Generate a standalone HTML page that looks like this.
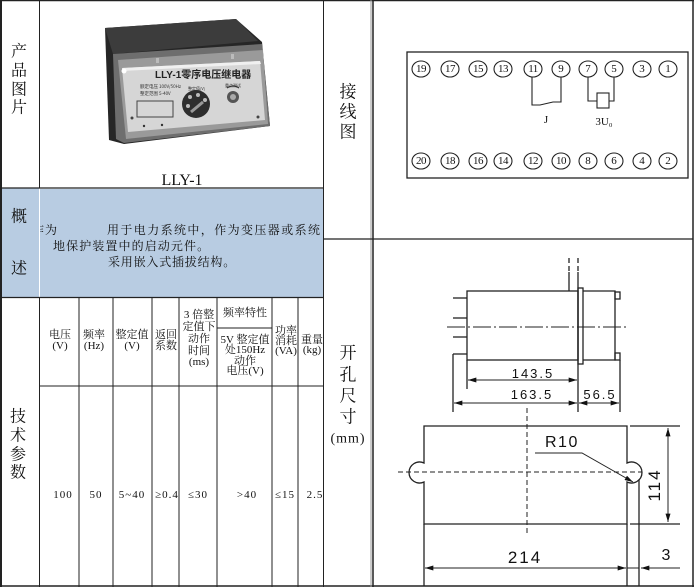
<!DOCTYPE html>
<html><head><meta charset="utf-8">
<style>
html,body{margin:0;padding:0;background:#fff;}
svg{display:block;}
.cj{font-family:"Liberation Serif","Noto Serif CJK SC",serif;fill:#111;}
.sn{font-family:"Liberation Sans",sans-serif;fill:#111;}
</style></head><body>
<svg width="694" height="587" viewBox="0 0 694 587" xmlns="http://www.w3.org/2000/svg">
<defs>
<clipPath id="blueclip"><rect x="40" y="189" width="283" height="108"/></clipPath>
<clipPath id="tblclip"><rect x="40" y="298" width="283" height="289"/></clipPath>
<marker id="ar" viewBox="0 0 10 6" refX="10" refY="3" markerWidth="9" markerHeight="5" orient="auto-start-reverse" markerUnits="userSpaceOnUse">
<path d="M0,0 L10,3 L0,6 z" fill="#111"/></marker>
</defs>
<rect width="694" height="587" fill="#fff"/>

<!-- blue section -->
<rect x="2" y="188" width="37" height="109" fill="#b8cce2"/>
<rect x="40" y="189" width="283" height="108" fill="#b8cce2"/>

<!-- frame lines -->
<g stroke="#222" fill="none">
<line x1="0" y1="0.5" x2="694" y2="0.5" stroke-width="1.5"/>
<line x1="1" y1="0" x2="1" y2="587" stroke-width="2"/>
<line x1="0" y1="586" x2="694" y2="586" stroke-width="1.5"/>
<line x1="693" y1="0" x2="693" y2="587" stroke-width="1.5"/>
<line x1="39.5" y1="0" x2="39.5" y2="188"/>
<line x1="39.5" y1="297" x2="39.5" y2="587"/>
<line x1="323.5" y1="0" x2="323.5" y2="587"/>
<line x1="371" y1="0" x2="371" y2="587" stroke="#999"/>
<line x1="373" y1="0" x2="373" y2="587" stroke-width="1.5"/>
<line x1="0" y1="188" x2="323" y2="188" stroke-width="1.2"/>
<line x1="0" y1="297.5" x2="323" y2="297.5" stroke-width="1.2"/>
<line x1="323" y1="239" x2="693" y2="239" stroke-width="1.2"/>
<!-- table -->
<line x1="79" y1="298" x2="79" y2="587"/>
<line x1="113" y1="298" x2="113" y2="587"/>
<line x1="152" y1="298" x2="152" y2="587"/>
<line x1="179" y1="298" x2="179" y2="587"/>
<line x1="217" y1="298" x2="217" y2="587"/>
<line x1="272" y1="298" x2="272" y2="587"/>
<line x1="298" y1="298" x2="298" y2="587"/>
<line x1="40" y1="386" x2="323" y2="386"/>
<line x1="217" y1="328" x2="272" y2="328"/>
</g>

<!-- left labels -->
<g class="cj" font-size="16" text-anchor="middle" dominant-baseline="central">
<text x="19" y="52">产</text><text x="19" y="71">品</text><text x="19" y="90">图</text><text x="19" y="108">片</text>
<text x="19" y="217">概</text><text x="19" y="269">述</text>
<text x="18" y="417">技</text><text x="18" y="436">术</text><text x="18" y="455">参</text><text x="18" y="473">数</text>
</g>
<g class="cj" font-size="17" text-anchor="middle" dominant-baseline="central">
<text x="348" y="92">接</text><text x="348" y="112">线</text><text x="348" y="132">图</text>
<text x="348" y="353">开</text><text x="348" y="375">孔</text><text x="348" y="396">尺</text><text x="348" y="417">寸</text>
</g>
<text class="cj" x="348" y="439" font-size="14" text-anchor="middle" dominant-baseline="central" letter-spacing="1">(mm)</text>

<!-- product photo -->
<g>
<polygon points="105,28 236,19 262,42 270,126 124,144 109,140" fill="#262626"/>
<polygon points="105,28 236,19 258,41 113,54" fill="#3c3c3c"/>
<polygon points="113,54 262,44 270,126 124,143 116,139" fill="#6e6e6e"/>
<polygon points="118,60 263,50 268,124 126,139" fill="#9a9a9a"/>
<polygon points="122,68 260,61 265,120 128,132" fill="#d6d6d6"/>
<polygon points="122,68 260,61 261,64 123,71" fill="#f0f0f0"/>
<circle cx="124" cy="71" r="2.5" fill="#fff"/>
<text x="155" y="78" font-family="Liberation Sans,Noto Sans CJK SC,sans-serif" font-size="10" font-weight="bold" fill="#222">LLY-1零序电压继电器</text>
<text x="140" y="88" font-family="Noto Sans CJK SC,sans-serif" font-size="4.5" fill="#333">额定电压 100V/50Hz</text>
<text x="140" y="95" font-family="Noto Sans CJK SC,sans-serif" font-size="4.5" fill="#333">整定范围 5-40V</text>
<text x="188" y="90" font-family="Noto Sans CJK SC,sans-serif" font-size="4" fill="#333">整定值(V)</text>
<text x="225" y="87" font-family="Noto Sans CJK SC,sans-serif" font-size="4" fill="#333">重点测试</text>
<rect x="137" y="101" width="36" height="16" fill="none" stroke="#444" stroke-width="1"/>
<circle cx="196" cy="104" r="14" fill="#2e2e2e"/>
<circle cx="190" cy="97" r="2" fill="#bbb"/><circle cx="198" cy="95" r="2" fill="#bbb"/><circle cx="205" cy="100" r="2" fill="#bbb"/><circle cx="188" cy="106" r="2" fill="#bbb"/>
<line x1="191" y1="112" x2="203" y2="102" stroke="#999" stroke-width="3"/>
<circle cx="233" cy="97" r="6" fill="#555"/><circle cx="233" cy="97" r="3" fill="#aaa"/>
<path d="M227,88 Q233,84 239,88" stroke="#333" fill="none" stroke-width="1.2"/>
<circle cx="144" cy="126" r="1.2" fill="#333"/><circle cx="162" cy="125" r="1.2" fill="#333"/>
<circle cx="132" cy="118" r="1.5" fill="#444"/><circle cx="258" cy="117" r="1.5" fill="#444"/>
<rect x="156" y="58" width="3" height="5" fill="#bbb"/><rect x="231" y="54" width="3" height="5" fill="#bbb"/>
</g>
<text x="182" y="185" font-family="Liberation Serif,serif" font-size="16" text-anchor="middle" fill="#111">LLY-1</text>

<!-- blue text -->
<g class="cj" font-size="12" clip-path="url(#blueclip)">
<text x="32" y="234" letter-spacing="1">作为</text>
<text x="107" y="234" letter-spacing="1.4">用于电力系统中，作为变压器或系统</text>
<text x="53" y="250" letter-spacing="1.1">地保护装置中的启动元件。</text>
<text x="108" y="266" letter-spacing="0.8">采用嵌入式插拔结构。</text>
</g>

<!-- table texts -->
<g class="cj" font-size="11" text-anchor="middle" dominant-baseline="central" clip-path="url(#tblclip)">
<text x="60" y="335">电压</text><text x="60" y="346">(V)</text>
<text x="94" y="335">频率</text><text x="94" y="346">(Hz)</text>
<text x="132" y="335">整定值</text><text x="132" y="346">(V)</text>
<text x="166" y="335">返回</text><text x="166" y="346">系数</text>
<text x="199" y="315">3 倍整</text><text x="199" y="327">定值下</text><text x="199" y="339">动作</text><text x="199" y="351">时间</text><text x="199" y="362">(ms)</text>
<text x="245" y="313">频率特性</text>
<text x="245" y="340">5V 整定值</text><text x="245" y="350">处150Hz</text><text x="245" y="361">动作</text><text x="245" y="371">电压(V)</text>
<text x="286" y="331">功率</text><text x="286" y="341">消耗</text><text x="286" y="351">(VA)</text>
<text x="312" y="340">重量</text><text x="312" y="350">(kg)</text>
<g letter-spacing="1">
<text x="63" y="495">100</text><text x="96" y="495">50</text><text x="132" y="495">5~40</text>
<text x="167" y="495">≥0.4</text><text x="198" y="495">≤30</text><text x="247" y="495">&gt;40</text>
<text x="285" y="495">≤15</text><text x="315" y="495">2.5</text>
</g>
</g>

<!-- wiring diagram -->
<rect x="407" y="52" width="281" height="126" fill="none" stroke="#222" stroke-width="1.3"/>
<g fill="none" stroke="#222" stroke-width="1.1">
<ellipse cx="421" cy="69" rx="9" ry="8"/><ellipse cx="450" cy="69" rx="9" ry="8"/><ellipse cx="478" cy="69" rx="9" ry="8"/><ellipse cx="503" cy="69" rx="9" ry="8"/><ellipse cx="533" cy="69" rx="9" ry="8"/><ellipse cx="561" cy="69" rx="9" ry="8"/><ellipse cx="588" cy="69" rx="9" ry="8"/><ellipse cx="614" cy="69" rx="9" ry="8"/><ellipse cx="642" cy="69" rx="9" ry="8"/><ellipse cx="668" cy="69" rx="9" ry="8"/>
<ellipse cx="421" cy="161" rx="9" ry="8"/><ellipse cx="450" cy="161" rx="9" ry="8"/><ellipse cx="478" cy="161" rx="9" ry="8"/><ellipse cx="503" cy="161" rx="9" ry="8"/><ellipse cx="533" cy="161" rx="9" ry="8"/><ellipse cx="561" cy="161" rx="9" ry="8"/><ellipse cx="588" cy="161" rx="9" ry="8"/><ellipse cx="614" cy="161" rx="9" ry="8"/><ellipse cx="642" cy="161" rx="9" ry="8"/><ellipse cx="668" cy="161" rx="9" ry="8"/>
<polyline points="532,77 532,105 540,105 553,102 561,102 561,77"/>
<polyline points="588,77 588,101 597,101"/>
<rect x="597" y="93" width="12" height="15"/>
<polyline points="609,101 614,101 614,77"/>
</g>
<g class="cj" font-size="11" text-anchor="middle" dominant-baseline="central">
<text x="421" y="69" letter-spacing="-0.5">19</text><text x="450" y="69" letter-spacing="-0.5">17</text><text x="478" y="69" letter-spacing="-0.5">15</text><text x="503" y="69" letter-spacing="-0.5">13</text><text x="533" y="69" letter-spacing="-0.5">11</text><text x="561" y="69">9</text><text x="588" y="69">7</text><text x="614" y="69">5</text><text x="642" y="69">3</text><text x="668" y="69">1</text>
<text x="421" y="161" letter-spacing="-0.5">20</text><text x="450" y="161" letter-spacing="-0.5">18</text><text x="478" y="161" letter-spacing="-0.5">16</text><text x="503" y="161" letter-spacing="-0.5">14</text><text x="533" y="161" letter-spacing="-0.5">12</text><text x="561" y="161" letter-spacing="-0.5">10</text><text x="588" y="161">8</text><text x="614" y="161">6</text><text x="642" y="161">4</text><text x="668" y="161">2</text>
<text x="546" y="120">J</text>
<text x="604" y="122">3U₀</text>
</g>

<!-- side view drawing -->
<g fill="none" stroke="#222" stroke-width="1.3">
<rect x="467" y="291" width="111" height="69"/>
<rect x="578" y="288" width="5" height="76"/>
<polyline points="583,291 615,291 615,360 583,360"/>
<rect x="615" y="292" width="5" height="7"/>
<rect x="615" y="353" width="5" height="7"/>
<line x1="453" y1="298" x2="467" y2="298"/>
<line x1="453" y1="318" x2="467" y2="318"/>
<line x1="453" y1="337" x2="467" y2="337"/>
<line x1="453" y1="354" x2="467" y2="354"/>
<line x1="453" y1="354" x2="453" y2="412"/>
<line x1="467" y1="360" x2="467" y2="389"/>
<line x1="569" y1="258" x2="569" y2="272" stroke-dasharray="5 3"/>
<line x1="569" y1="272" x2="569" y2="291"/>
<line x1="578" y1="258" x2="578" y2="272" stroke-dasharray="5 3"/>
<line x1="578" y1="272" x2="578" y2="412"/>
<line x1="620" y1="360" x2="620" y2="412"/>
<line x1="447" y1="327" x2="628" y2="327" stroke-width="1" stroke-dasharray="18 3 2 3"/>
<line x1="468" y1="380" x2="577" y2="380" marker-start="url(#ar)" marker-end="url(#ar)" stroke-width="1"/>
<line x1="454" y1="403" x2="577" y2="403" marker-start="url(#ar)" marker-end="url(#ar)" stroke-width="1"/>
<line x1="579" y1="403" x2="619" y2="403" marker-start="url(#ar)" marker-end="url(#ar)" stroke-width="1"/>
</g>
<g class="sn" font-size="13" text-anchor="middle" letter-spacing="2">
<text x="533" y="378">143.5</text>
<text x="532" y="399">163.5</text>
<text x="600" y="399">56.5</text>
</g>

<!-- cutout drawing -->
<g fill="none" stroke="#222" stroke-width="1.3">
<path d="M424,426 H627 V463 A10.5,10.5 0 1 1 627,482 V524 H424 V482 A10.5,10.5 0 1 1 424,463 Z"/>
<line x1="398" y1="472" x2="642" y2="472" stroke-width="1" stroke-dasharray="5 3"/>
<line x1="527" y1="408" x2="527" y2="533" stroke-width="1" stroke-dasharray="5 3"/>
<polyline points="535,453 582,453 633,482" stroke-width="1" marker-end="url(#ar)"/>
<line x1="630" y1="426" x2="680" y2="426"/>
<line x1="630" y1="524" x2="680" y2="524"/>
<line x1="668" y1="428" x2="668" y2="522" stroke-width="1" marker-start="url(#ar)" marker-end="url(#ar)"/>
<line x1="424" y1="524" x2="424" y2="586"/>
<line x1="627" y1="524" x2="627" y2="586"/>
<line x1="639" y1="480" x2="639" y2="586"/>
<line x1="425" y1="568" x2="626" y2="568" stroke-width="1" marker-start="url(#ar)" marker-end="url(#ar)"/>
<line x1="627" y1="568" x2="639" y2="568" stroke-width="1"/>
<line x1="680" y1="568" x2="641" y2="568" stroke-width="1" marker-end="url(#ar)"/>
</g>
<g class="sn">
<text x="545" y="447" font-size="16" letter-spacing="1.5">R10</text>
<text x="525" y="563" font-size="17" text-anchor="middle" letter-spacing="2">214</text>
<text x="666" y="560" font-size="16" text-anchor="middle">3</text>
<text transform="translate(660,485) rotate(-90)" font-size="17" text-anchor="middle" letter-spacing="2">114</text>
</g>
</svg>
</body></html>
